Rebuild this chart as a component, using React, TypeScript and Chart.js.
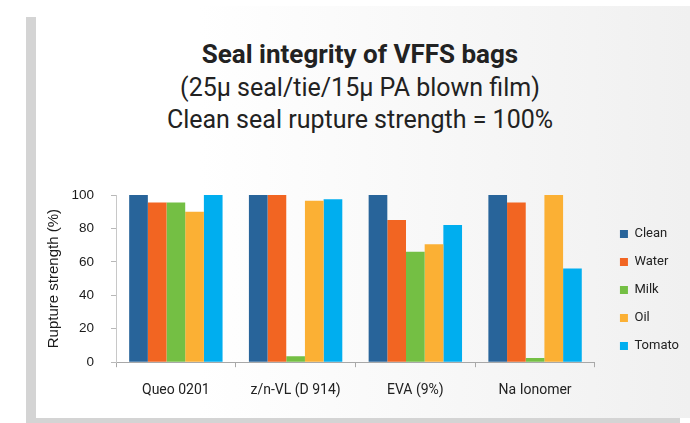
import React, { useEffect, useRef } from "react";
import { Chart, registerables } from "chart.js";

Chart.register(...registerables);

const categories = ["Queo 0201", "z/n-VL (D 914)", "EVA (9%)", "Na Ionomer"];
const seriesNames = ["Clean", "Water", "Milk", "Oil", "Tomato"];
const cleanValues = [100, 100, 100, 100];
const waterValues = [95.5, 100, 85, 95.5];
const milkValues = [95.5, 3.5, 66, 2.5];
const oilValues = [90, 96.5, 70.5, 100];
const tomatoValues = [100, 97.5, 82, 56];
const seriesColors = ["#28649a", "#f26522", "#74bf44", "#fbb034", "#00aeef"];
const yTicks = [0, 20, 40, 60, 80, 100];

const titleLines = [
  "Seal integrity of VFFS bags",
  "(25\u00b5 seal/tie/15\u00b5 PA blown film)",
  "Clean seal rupture strength = 100%",
];

const legendPlacer = {
  id: "legendPlacer",
  afterLayout(chart: any) {
    const lg = chart.legend;
    const ca = chart.chartArea;
    if (!lg || !ca) return;
    const w = lg.right - lg.left;
    const h = lg.bottom - lg.top;
    lg.left = ca.right + 10;
    lg.right = lg.left + w;
    lg.top = ca.top + 11.5;
    lg.bottom = lg.top + h;
  },
};

export default function App() {
  const canvasRef = useRef<HTMLCanvasElement | null>(null);

  useEffect(() => {
    const canvas = canvasRef.current;
    if (!canvas) return;
    const values = [cleanValues, waterValues, milkValues, oilValues, tomatoValues];
    const chart = new Chart(canvas, {
      type: "bar",
      data: {
        labels: categories,
        datasets: seriesNames.map((name, i) => ({
          label: name,
          data: values[i],
          backgroundColor: seriesColors[i],
          borderWidth: 0,
          categoryPercentage: 0.78,
          barPercentage: 1,
        })),
      },
      options: {
        animation: false,
        responsive: false,
        devicePixelRatio: 1,
        layout: { padding: { left: 9, top: 45, right: 11, bottom: 4 } },
        plugins: {
          title: { display: false },
          tooltip: { enabled: false },
          legend: {
            display: true,
            position: "right",
            fullSize: false,
            align: "center",
            labels: {
              boxWidth: 8,
              boxHeight: 8,
              padding: 15,
              color: "#222222",
              font: { family: "Roboto", size: 13 },
            },
          },
        },
        scales: {
          x: {
            grid: {
              display: true,
              drawOnChartArea: false,
              drawTicks: true,
              tickLength: 5,
              color: "#a8a8a8",
              lineWidth: 1,
            },
            border: { display: true, color: "#a8a8a8", width: 1 },
            ticks: {
              color: "#222222",
              padding: 15,
              font: { family: "Roboto", size: 14 },
            },
          },
          y: {
            min: 0,
            max: 100,
            afterBuildTicks(scale: any) {
              scale.ticks = yTicks.map((v) => ({ value: v }));
            },
            afterFit(scale: any) {
              scale.width = 71;
            },
            grid: {
              display: true,
              drawOnChartArea: false,
              drawTicks: true,
              tickLength: 5,
              color: "#b8b8b8",
              lineWidth: 1,
            },
            border: { display: true, color: "#c8c8c8", width: 1 },
            ticks: {
              color: "#1a1a1a",
              padding: 17,
              font: { family: "Liberation Sans", size: 13.5 },
            },
            title: {
              display: true,
              text: "Rupture strength (%)",
              color: "#1a1a1a",
              padding: { top: 0, bottom: 0 },
              font: { family: "Liberation Sans", size: 15 },
            },
          },
        },
      },
      plugins: [legendPlacer],
    });
    return () => chart.destroy();
  }, []);

  const titleFont = "Roboto, 'Noto Sans', sans-serif";

  return (
    <div
      style={{
        position: "fixed",
        left: 0,
        top: 0,
        width: 690,
        height: 423,
        background: "#ffffff",
        overflow: "hidden",
      }}
    >
      <div
        style={{
          position: "absolute",
          left: 26,
          top: 17,
          width: 654,
          height: 412,
          background: "#d4d4d4",
        }}
      />
      <div
        style={{
          position: "absolute",
          left: 36,
          top: 6,
          width: 654,
          height: 412,
          background: "linear-gradient(to right, #ffffff 0%, #ffffff 25%, #f0f0f0 100%)",
        }}
      />
      {titleLines.map((t, i) => (
        <div
          key={i}
          style={{
            position: "absolute",
            left: 0,
            width: 720,
            top: [38, 72, 104][i],
            height: 32,
            lineHeight: "32px",
            textAlign: "center",
            fontFamily: titleFont,
            fontSize: i === 0 ? 26 : 25,
            fontWeight: i === 0 ? 700 : 400,
            color: "#222222",
            whiteSpace: "nowrap",
          }}
        >
          {t}
        </div>
      ))}
      <canvas
        ref={canvasRef}
        width={654}
        height={268}
        style={{ position: "absolute", left: 36, top: 150, width: 654, height: 268 }}
      />
    </div>
  );
}
